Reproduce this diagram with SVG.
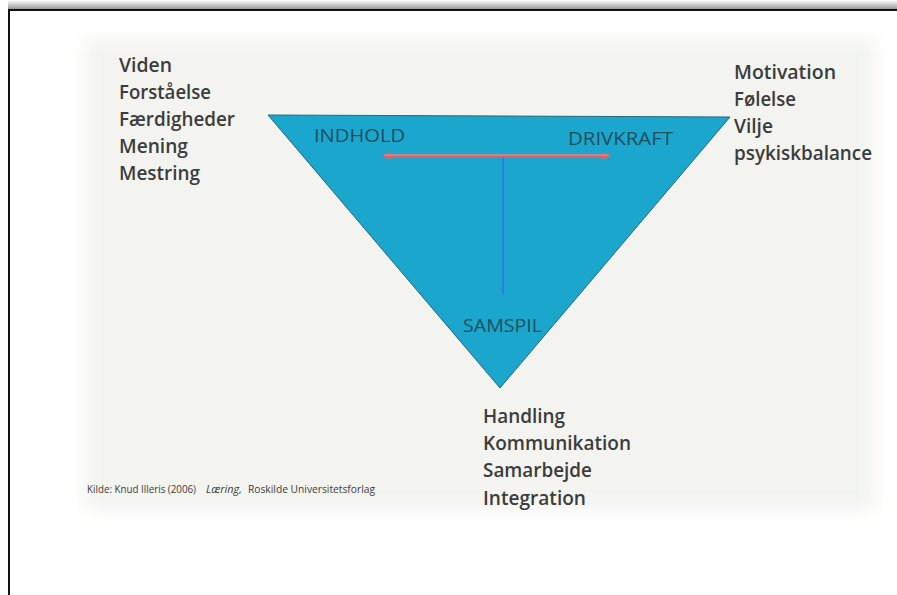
<svg xmlns="http://www.w3.org/2000/svg" width="897" height="595" viewBox="0 0 897 595">
  <defs>
    <linearGradient id="topShade" x1="0" y1="0" x2="0" y2="1">
      <stop offset="0" stop-color="#ffffff"/>
      <stop offset="1" stop-color="#8c8c8c"/>
    </linearGradient>
    <filter id="soft" x="-10%" y="-10%" width="120%" height="120%">
      <feGaussianBlur stdDeviation="9"/>
    </filter>
    <marker id="redEnd" viewBox="0 0 10 10" refX="8" refY="5" markerWidth="3" markerHeight="3" orient="auto-start-reverse">
      <path d="M0,1 L10,5 L0,9 Z" fill="#e06060"/>
    </marker>
    <style>
      .list { font-family: "Open Sans", "Noto Sans", "Liberation Sans", sans-serif; font-weight: 600; font-size: 20px; fill: #3b3c3c; }
      .inner { font-family: "Open Sans", "Noto Sans", "Liberation Sans", sans-serif; font-weight: 400; font-size: 19px; fill: #1f4e5c; }
      .src { font-family: "Open Sans", "Noto Sans", "Liberation Sans", sans-serif; font-weight: 400; font-size: 11px; fill: #3b3c3c; }
    </style>
  </defs>

  <rect x="0" y="0" width="897" height="595" fill="#ffffff"/>
  <rect x="8" y="0" width="889" height="10" fill="url(#topShade)"/>
  <rect x="84" y="40" width="792" height="470" fill="#f3f4f0" filter="url(#soft)"/>
  <line x1="8" y1="10" x2="897" y2="10" stroke="#111111" stroke-width="2"/>
  <line x1="9" y1="9" x2="9" y2="595" stroke="#111111" stroke-width="2"/>

  <g id="triangle">
    <polygon points="268,115 730,117 500,388" fill="#1ba7cd" stroke="#2b6674" stroke-width="1"/>
    <text class="inner" x="314" y="142" textLength="91" lengthAdjust="spacingAndGlyphs">INDHOLD</text>
    <text class="inner" x="568" y="145" textLength="105" lengthAdjust="spacingAndGlyphs">DRIVKRAFT</text>
    <text class="inner" x="463" y="332" font-size="20" textLength="79" lengthAdjust="spacingAndGlyphs">SAMSPIL</text>
  </g>

  <g id="connectors">
    <line x1="384" y1="156" x2="609" y2="156" stroke="#e06060" stroke-width="3" marker-start="url(#redEnd)" marker-end="url(#redEnd)"/>
    <line x1="384" y1="155" x2="609" y2="155" stroke="#f0a0a0" stroke-width="0.8"/>
    <line x1="503" y1="158" x2="503" y2="295" stroke="#2f7fe0" stroke-width="2"/>
  </g>

  <g id="left-list">
    <text class="list" x="119" y="72" textLength="53" lengthAdjust="spacingAndGlyphs">Viden</text>
    <text class="list" x="119" y="99" textLength="92" lengthAdjust="spacingAndGlyphs">Forståelse</text>
    <text class="list" x="119" y="126" textLength="116" lengthAdjust="spacingAndGlyphs">Færdigheder</text>
    <text class="list" x="119" y="153" textLength="69" lengthAdjust="spacingAndGlyphs">Mening</text>
    <text class="list" x="119" y="180" textLength="81" lengthAdjust="spacingAndGlyphs">Mestring</text>
  </g>

  <g id="right-list">
    <text class="list" x="734" y="79" textLength="102" lengthAdjust="spacingAndGlyphs">Motivation</text>
    <text class="list" x="734" y="106" textLength="62" lengthAdjust="spacingAndGlyphs">Følelse</text>
    <text class="list" x="734" y="133" textLength="39" lengthAdjust="spacingAndGlyphs">Vilje</text>
    <text class="list" x="734" y="160" textLength="138" lengthAdjust="spacingAndGlyphs">psykiskbalance</text>
  </g>

  <g id="bottom-list">
    <text class="list" x="483" y="423" textLength="82" lengthAdjust="spacingAndGlyphs">Handling</text>
    <text class="list" x="483" y="450" textLength="148" lengthAdjust="spacingAndGlyphs">Kommunikation</text>
    <text class="list" x="483" y="477" textLength="109" lengthAdjust="spacingAndGlyphs">Samarbejde</text>
    <text class="list" x="483" y="505" textLength="103" lengthAdjust="spacingAndGlyphs">Integration</text>
  </g>

  <g id="source">
    <text class="src" x="87" y="493" textLength="109" lengthAdjust="spacingAndGlyphs">Kilde: Knud Illeris (2006)</text>
    <text class="src" x="206" y="493" font-style="italic" textLength="36" lengthAdjust="spacingAndGlyphs">Læring,</text>
    <text class="src" x="248" y="493" textLength="127" lengthAdjust="spacingAndGlyphs">Roskilde Universitetsforlag</text>
  </g>
</svg>
